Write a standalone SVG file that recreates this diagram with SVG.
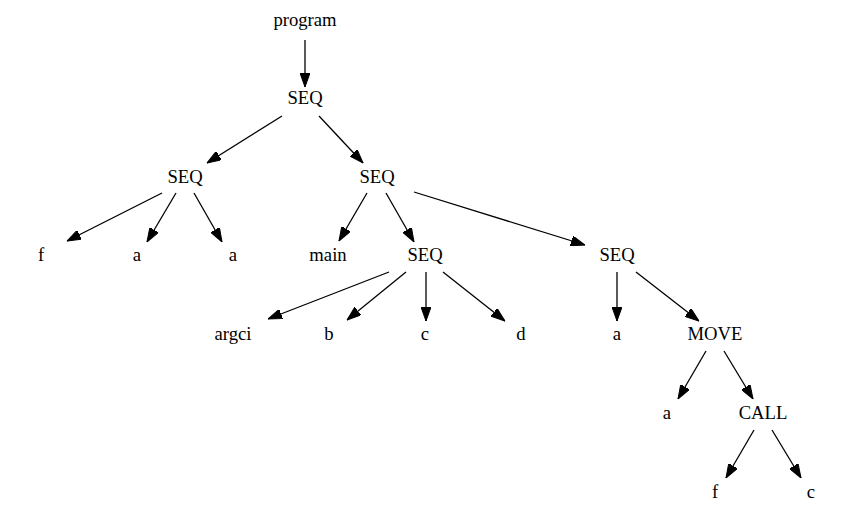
<svg xmlns="http://www.w3.org/2000/svg" width="853" height="513" viewBox="0 0 853 513">
<style>
text{font-family:"Liberation Serif","Times New Roman",serif;font-size:18.67px;text-anchor:middle;fill:#000}
.e line{stroke:#000;stroke-width:1.3;marker-end:url(#ah)}
</style>
<defs>
<marker id="ah" markerUnits="userSpaceOnUse" viewBox="0 0 14 10" refX="14" refY="5" markerWidth="14" markerHeight="10" orient="auto">
<path d="M0,0 L14,5 L0,10 z" fill="#000" stroke="#000" stroke-width="1"/>
</marker>
</defs>
<rect width="853" height="513" fill="#fff"/>
<g class="e" id="edges">
<line x1="305" y1="40" x2="305" y2="87"/>
<line x1="282" y1="116" x2="207" y2="163"/>
<line x1="319" y1="116" x2="363" y2="163"/>
<line x1="162" y1="193" x2="67" y2="241"/>
<line x1="176" y1="193" x2="147" y2="242"/>
<line x1="194" y1="193" x2="222" y2="242"/>
<line x1="367" y1="193" x2="339" y2="241"/>
<line x1="386" y1="193" x2="414" y2="242"/>
<line x1="414" y1="192" x2="585" y2="245"/>
<line x1="389" y1="272" x2="268" y2="319"/>
<line x1="406" y1="272" x2="347" y2="320"/>
<line x1="426" y1="272" x2="426" y2="321"/>
<line x1="443" y1="272" x2="505" y2="321"/>
<line x1="617" y1="272" x2="617" y2="321"/>
<line x1="636" y1="272" x2="699" y2="321"/>
<line x1="706" y1="351" x2="678" y2="399"/>
<line x1="724" y1="351" x2="753" y2="399"/>
<line x1="754" y1="430" x2="726" y2="478"/>
<line x1="772" y1="430" x2="801" y2="478"/>
</g>
<g id="n_program"><text x="305" y="26">program</text></g>
<g id="n_seq1"><text x="305" y="104">SEQ</text></g>
<g id="n_seq2"><text x="185" y="183">SEQ</text></g>
<g id="n_seq3"><text x="377" y="183">SEQ</text></g>
<g id="n_f1"><text x="41" y="261">f</text></g>
<g id="n_a1"><text x="137" y="261">a</text></g>
<g id="n_a2"><text x="233" y="261">a</text></g>
<g id="n_main"><text x="328" y="261">main</text></g>
<g id="n_seq4"><text x="425" y="261">SEQ</text></g>
<g id="n_seq5"><text x="617" y="261">SEQ</text></g>
<g id="n_argci"><text x="233" y="340">argci</text></g>
<g id="n_b"><text x="329" y="340">b</text></g>
<g id="n_c1"><text x="425" y="340">c</text></g>
<g id="n_d"><text x="521" y="340">d</text></g>
<g id="n_a3"><text x="617" y="340">a</text></g>
<g id="n_move"><text x="715" y="340">MOVE</text></g>
<g id="n_a4"><text x="667" y="419">a</text></g>
<g id="n_call"><text x="763" y="419">CALL</text></g>
<g id="n_f2"><text x="715" y="498">f</text></g>
<g id="n_c2"><text x="811" y="498">c</text></g>
</svg>
